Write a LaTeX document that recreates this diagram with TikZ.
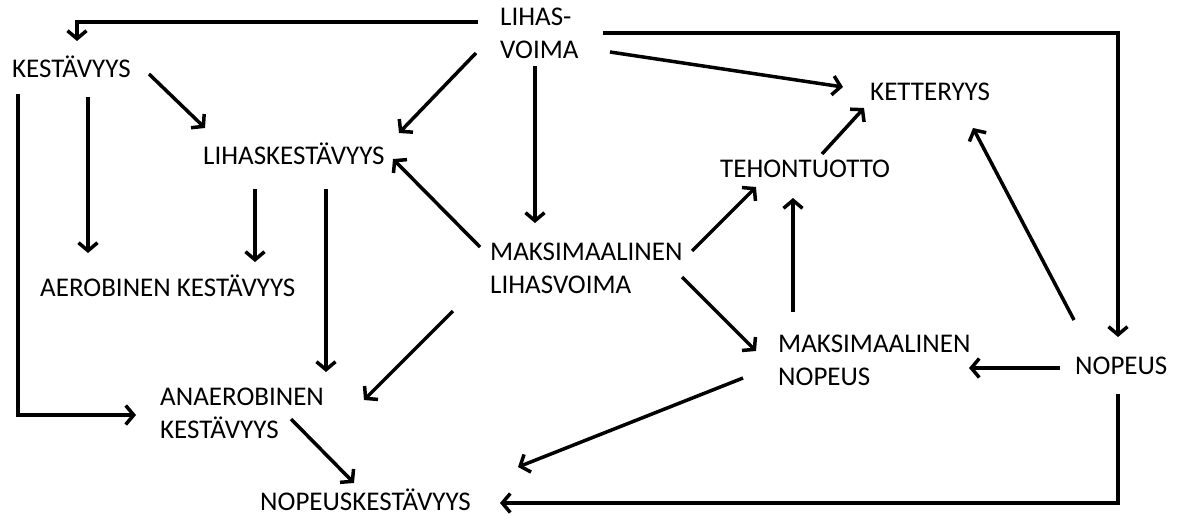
\documentclass[tikz,border=0pt]{standalone}
\usepackage{fontspec}
\setmainfont{Carlito}
\usetikzlibrary{arrows.meta,calc}
\begin{document}
\begin{tikzpicture}[x=1pt,y=-1pt,
  lbl/.style={inner sep=0pt,anchor=west,align=left,font=\fontsize{27}{33}\selectfont},
  arr/.style={line width=3.5pt,-{Straight Barb[length=8pt,width=19pt]}}]
\useasboundingbox (0,0) rectangle (1178,515);
\node[lbl] (lv) at (500,33) {LIHAS-\\VOIMA};
\node[lbl] (ke) at (12,67) {KESTÄVYYS};
\node[lbl] (lk) at (203,154) {LIHASKESTÄVYYS};
\node[lbl] (ae) at (40,286) {AEROBINEN KESTÄVYYS};
\node[lbl] (ml) at (490,268) {MAKSIMAALINEN\\LIHASVOIMA};
\node[lbl] (te) at (720,169) {TEHONTUOTTO};
\node[lbl] (kt) at (870,92) {KETTERYYS};
\node[lbl] (mn) at (778,360) {MAKSIMAALINEN\\NOPEUS};
\node[lbl] (no) at (1075,366) {NOPEUS};
\node[lbl] (an) at (160,413) {ANAEROBINEN\\KESTÄVYYS};
\node[lbl] (nk) at (260,500) {NOPEUSKESTÄVYYS};
% connectors
\draw[arr] ($(lv.west)+(-22,-11)$) -| ($(ke.west)+(65,-26)$);
\draw[arr] ($(lv.west)+(-24,20)$) -- ($(lk.west)+(196,-21)$);
\draw[arr] ($(lv.west)+(35,33)$) -- ($(ml.west)+(45,-45)$);
\draw[arr] ($(lv.west)+(110,19)$) -- ($(kt.west)+(-27,-5)$);
\draw[arr] ($(lv.west)+(103,0)$) -| ($(no.west)+(43,-29)$);
\draw[arr] ($(ke.west)+(137,7)$) -- ($(lk.west)+(2,-26)$);
\draw[arr] ($(ke.west)+(76,30)$) -- ($(ae.west)+(48,-33)$);
\draw[arr] ($(ke.west)+(6,27)$) |- ($(an.west)+(-24,2)$);
\draw[arr] ($(lk.west)+(52,35)$) -- ($(ae.west)+(215,-24)$);
\draw[arr] ($(lk.west)+(123,35)$) -- ($(an.west)+(166,-41)$);
\draw[arr] ($(ml.west)+(-10,-21)$) -- ($(lk.west)+(190,5)$);
\draw[arr] ($(ml.west)+(-37,43)$) -- ($(an.west)+(204,-13)$);
\draw[arr] ($(ml.west)+(202,-17)$) -- ($(te.west)+(36,18)$);
\draw[arr] ($(ml.west)+(192,9)$) -- ($(mn.west)+(-22,-9)$);
\draw[arr] ($(te.west)+(102,-15)$) -- ($(kt.west)+(-6,16)$);
\draw[arr] ($(mn.west)+(15,-48)$) -- ($(te.west)+(73,29)$);
\draw[arr] ($(mn.west)+(-35,18)$) -- ($(nk.west)+(258,-33)$);
\draw[arr] ($(no.west)+(-15,2)$) -- ($(mn.west)+(191,8)$);
\draw[arr] ($(no.west)+(-1,-46)$) -- ($(kt.west)+(103,36)$);
\draw[arr] ($(no.west)+(43,28)$) |- ($(nk.west)+(240,3)$);
\draw[arr] ($(an.west)+(131,6)$) -- ($(nk.west)+(94,-17)$);
\end{tikzpicture}
\end{document}
